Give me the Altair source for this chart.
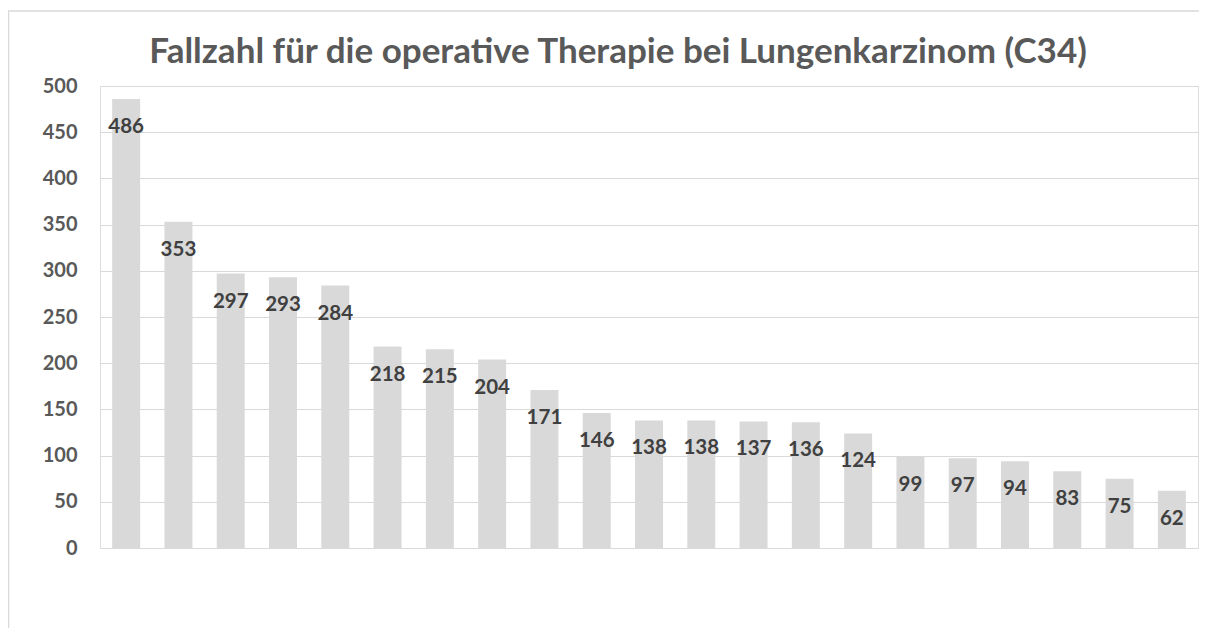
import altair as alt
import pandas as pd

categories = [f"K{i:02d}" for i in range(1, 22)]
values = [486, 353, 297, 293, 284, 218, 215, 204, 171, 146, 138, 138, 137, 136, 124, 99, 97, 94, 83, 75, 62]
y_ticks = [0, 50, 100, 150, 200, 250, 300, 350, 400, 450, 500]

df = pd.DataFrame({"kat": categories, "fall": values})

W, H = 1098, 462
TXT = "#595959"
LBL = "#404040"
GRID = "#D9D9D9"
FONT = "Lato"

x_enc = alt.X("kat:N", sort=categories, axis=None,
              scale=alt.Scale(paddingInner=0.465, paddingOuter=0.2325))
y_enc = alt.Y("fall:Q", scale=alt.Scale(domain=[0, 500], nice=False),
              axis=alt.Axis(values=y_ticks, title=None, grid=True, gridColor=GRID,
                            gridWidth=1.2, domain=False, ticks=False,
                            labelFont=FONT, labelFontWeight="bold", labelFontSize=20,
                            labelColor=TXT, labelPadding=23))

frame = alt.Chart(pd.DataFrame({"a": [0]})).mark_rect(
    fill=None, stroke=GRID, strokeWidth=1.5, clip=False
).encode(x=alt.value(-91.5), x2=alt.value(1300), y=alt.value(-75), y2=alt.value(700))

bars = alt.Chart(df).mark_bar(color="#D9D9D9").encode(x=x_enc, y=y_enc)

labels = alt.Chart(df).mark_text(
    font=FONT, fontWeight="bold", fontSize=20.5, color=LBL, baseline="middle", dy=28
).encode(x=x_enc, y=y_enc, text="fall:Q")

chart = alt.layer(frame, bars, labels).properties(
    width=W, height=H,
    title=alt.TitleParams(
        "Fallzahl für die operative Therapie bei Lungenkarzinom (C34)",
        font=FONT, fontSize=35, fontWeight="bold", color=TXT,
        anchor="middle", frame="group", baseline="alphabetic", offset=-88, dx=-31
    ),
    padding={"left": 92, "top": 78, "right": 1, "bottom": 80},
    autosize=alt.AutoSizeParams(type="none"),
).configure_view(stroke=None).configure(background="white")

chart.save("out.html", embed_options={"renderer": "svg", "actions": False})
